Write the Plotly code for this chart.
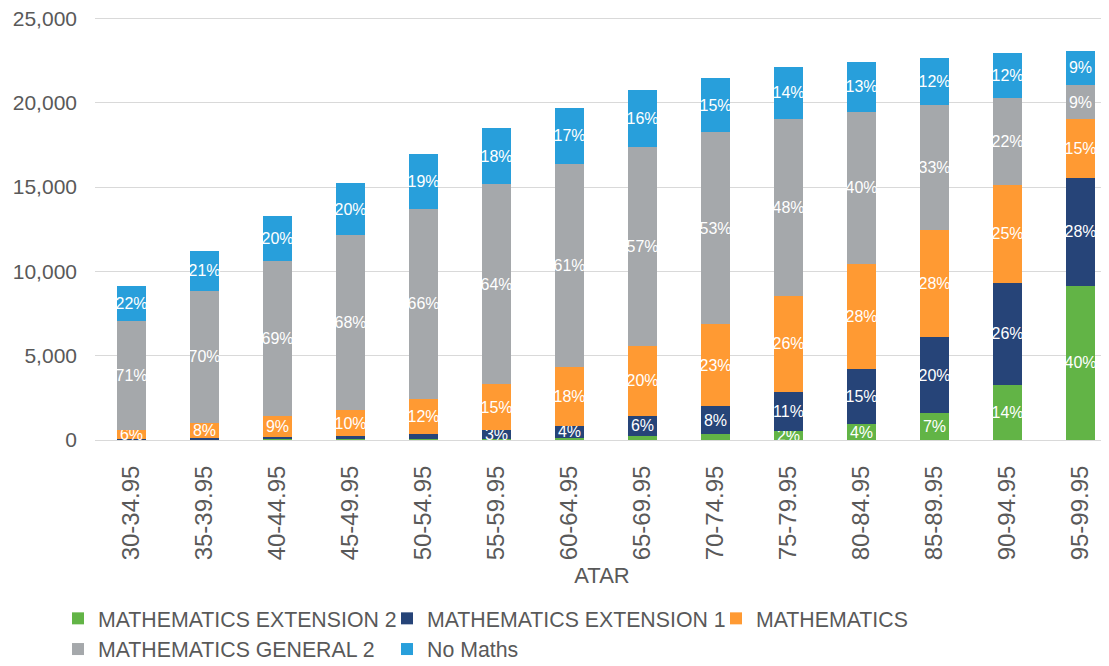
import plotly.graph_objects as go

# ATAR bands and student counts per maths course
atar_bands = [
    "30-34.95", "35-39.95", "40-44.95", "45-49.95", "50-54.95", "55-59.95", "60-64.95",
    "65-69.95", "70-74.95", "75-79.95", "80-84.95", "85-89.95", "90-94.95", "95-99.95",
]
ext2 = [10, 20, 30, 36, 52, 78, 130, 236, 354, 520, 944, 1574, 3288, 9150]
ext1 = [30, 70, 170, 200, 300, 513, 720, 1200, 1653, 2350, 3266, 4525, 6021, 6400]
maths = [560, 910, 1200, 1535, 2105, 2716, 3490, 4150, 4881, 5660, 6220, 6337, 5844, 3482]
general2 = [6480, 7850, 9190, 10389, 11236, 11883, 12030, 11790, 11371, 10540, 9050, 7440, 5113, 2031]
no_maths = [2050, 2350, 2690, 3070, 3247, 3290, 3346, 3384, 3211, 3030, 2951, 2800, 2697, 2025]

series = [
    ("MATHEMATICS EXTENSION 2", ext2, "#62b446"),
    ("MATHEMATICS EXTENSION 1", ext1, "#264478"),
    ("MATHEMATICS", maths, "#ff9a33"),
    ("MATHEMATICS GENERAL 2", general2, "#a5a8ab"),
    ("No Maths", no_maths, "#289fdb"),
]

totals = [sum(v) for v in zip(ext2, ext1, maths, general2, no_maths)]
FONT = "Liberation Sans, Arial, sans-serif"

# the html page has an 8px body margin, so the figure is sized to fit the window
W, H = 1101, 658


def pct_labels(values):
    out = []
    for v, t in zip(values, totals):
        p = v / t * 100
        out.append(f"{int(p + 0.5)}%" if p >= 2.2 else "")
    return out


fig = go.Figure()

for name, values, color in series:
    fig.add_trace(
        go.Bar(
            x=atar_bands,
            y=values,
            name=name,
            marker=dict(color=color, line=dict(width=0)),
            text=pct_labels(values),
            textposition="inside",
            insidetextanchor="middle",
            textangle=0,
            textfont=dict(color="white", size=16, family=FONT),
        )
    )

fig.update_layout(
    barmode="stack",
    bargap=0.59,
    width=W,
    height=H,
    font=dict(family=FONT, color="#595959"),
    plot_bgcolor="white",
    paper_bgcolor="white",
    margin=dict(l=87, r=0, t=8, b=226),
    uniformtext=dict(minsize=16, mode="show"),
    legend=dict(
        orientation="h",
        xref="container",
        yref="container",
        x=50 / W,
        y=1 - 590 / H,
        xanchor="left",
        yanchor="top",
        entrywidth=284,
        entrywidthmode="pixels",
        font=dict(size=21.3, color="#595959", family=FONT),
        traceorder="normal",
    ),
)

fig.update_yaxes(
    range=[0, 25150],
    tickvals=[0, 5000, 10000, 15000, 20000, 25000],
    tickformat=",",
    gridcolor="#d9d9d9",
    zeroline=False,
    tickfont=dict(size=21, color="#595959"),
    ticks="",
    ticklabelstandoff=17,
    ticklabeloverflow="allow",
    automargin=False,
)

fig.update_xaxes(
    range=[-0.5, 13.39],
    tickangle=-90,
    tickfont=dict(size=24, color="#595959"),
    showline=True,
    linecolor="#d9d9d9",
    linewidth=1,
    ticks="",
    ticklabelstandoff=15,
    automargin=False,
    title=dict(text="ATAR", font=dict(size=22, color="#595959"), standoff=8),
)

fig.write_html("out.html")
